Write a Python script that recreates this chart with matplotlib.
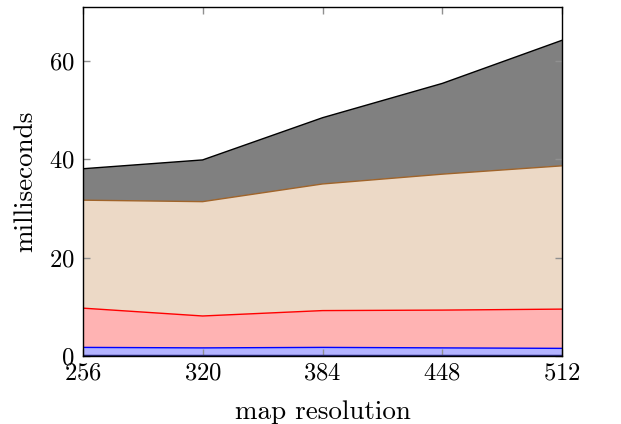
import matplotlib
matplotlib.use("Agg")
import matplotlib.pyplot as plt
import numpy as np

plt.rcParams['font.family'] = 'serif'
plt.rcParams['font.serif'] = ['cmr10']
plt.rcParams['mathtext.fontset'] = 'cm'
plt.rcParams['axes.formatter.use_mathtext'] = True

resolution = [256, 320, 384, 448, 512]
series_blue = [1.7, 1.6, 1.7, 1.6, 1.5]
series_red = [8.0, 6.5, 7.5, 7.7, 8.0]
series_tan = [22.0, 23.3, 25.8, 27.7, 29.2]
series_gray = [6.4, 8.5, 13.5, 18.5, 25.6]
xticks = [256, 320, 384, 448, 512]
yticks = [0, 20, 40, 60]

fig = plt.figure(figsize=(6.21, 4.24), dpi=100)
ax = fig.add_axes([0.1332, 0.161, 0.9055 - 0.1332, 0.9828 - 0.161])

x = np.array(resolution, dtype=float)
layers = [
    (series_blue, '#b3b3ff', 'blue'),
    (series_red, '#ffb3b3', 'red'),
    (series_tan, '#ecd9c6', '#a0642a'),
    (series_gray, '#808080', 'black'),
]
base = np.zeros_like(x)
for vals, fc, ec in layers:
    top = base + np.array(vals)
    ax.fill_between(x, base, top, facecolor=fc, edgecolor='none', zorder=1)
    ax.plot(x, top, color=ec, lw=1.0, zorder=2)
    base = top
ax.plot(x, np.zeros_like(x), color='#2a2a80', lw=2.5, zorder=3)

ax.set_xlim(256, 512)
ax.set_ylim(0, 71)
ax.set_xticks(xticks)
ax.set_yticks(yticks)
ax.tick_params(direction='in', length=5, color='#909090', width=1,
               top=True, right=True, labelsize=17.8)
ax.tick_params(axis='x', pad=5)
ax.tick_params(axis='y', pad=6)
for s in ax.spines.values():
    s.set_linewidth(1.0)
    s.set_zorder(4)
ax.set_xlabel('map resolution', fontsize=19.5, labelpad=11)
ax.set_ylabel('milliseconds', fontsize=19.5, labelpad=8)

fig.savefig('out.png', dpi=100)
